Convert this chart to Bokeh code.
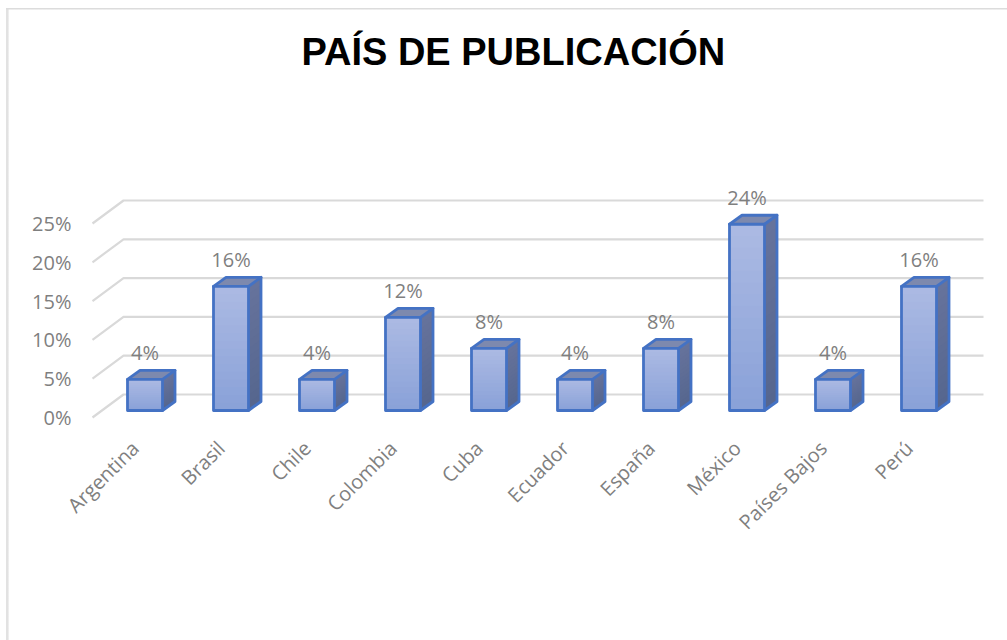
from bokeh.plotting import figure
from bokeh.embed import file_html
from bokeh.resources import INLINE
from bokeh.models import Range1d, FixedTicker, Title
from bokeh.core.properties import value
import math

TITLE = "PAÍS DE PUBLICACIÓN"
categories = ["Argentina", "Brasil", "Chile", "Colombia", "Cuba", "Ecuador", "España", "México", "Países Bajos", "Perú"]
shares = [4, 16, 4, 12, 8, 4, 8, 24, 4, 16]
y_ticks = [0, 5, 10, 15, 20, 25]

FONT = "Open Sans"
GREY = "#7f7f7f"
W, H = 1007, 640
ML, MR, MT, MB = 78, 8, 77, 210
PX_X, PX_Y = 86.0, 7.76          # pixels per category, pixels per percent
x0 = -(144.5 - 78) / PX_X
y0 = -(430 - 417) / PX_Y

WALL_DX, WALL_DY = 31 / PX_X, 23 / PX_Y
WALL_LEFT, WALL_RIGHT = (92 - 144.5) / PX_X, (983 - 144.5) / PX_X
BASE = 7 / PX_Y
HALF = 17.5 / PX_X
BAR_DX, BAR_DY = 12.5 / PX_X, 9 / PX_Y
LABEL_SHIFT = 0.115

p = figure(width=W, height=H, output_backend="svg", toolbar_location=None,
           x_range=Range1d(x0, x0 + (W - ML - MR) / PX_X),
           y_range=Range1d(y0, y0 + (H - MT - MB) / PX_Y),
           min_border_left=ML, min_border_right=MR, min_border_top=MT, min_border_bottom=MB,
           background_fill_color=None, border_fill_color=None, outline_line_color=None)
p.grid.visible = False

# chart-area border (top and left only), painted behind the transparent canvas
p.styles = {
    "background-color": "white",
    "background-image": "linear-gradient(#dcdcdc,#dcdcdc),linear-gradient(#e2e2e2,#e2e2e2)",
    "background-size": "100% 1.5px,2.6px 100%",
    "background-position": "6px 8px,6px 8px",
    "background-repeat": "no-repeat",
}

title = Title(text=TITLE, align="left", offset=223, text_font="Liberation Sans", text_font_size="38px",
              text_font_style="bold", text_color="#000000")
p.add_layout(title, "above")

# axes
ya = p.yaxis[0]
ya.ticker = FixedTicker(ticks=y_ticks)
ya.major_label_overrides = {v: f"{v}%" for v in y_ticks}
x_positions = [round(i - LABEL_SHIFT, 3) for i in range(len(categories))]
xa = p.xaxis[0]
xa.ticker = FixedTicker(ticks=x_positions)
xa.major_label_overrides = dict(zip(x_positions, categories))
xa.major_label_orientation = math.pi / 4
for a in (xa, ya):
    a.axis_line_color = None
    a.major_tick_line_color = None
    a.minor_tick_line_color = None
    a.major_label_text_font = FONT
    a.major_label_text_font_size = "20px"
    a.major_label_text_color = GREY
ya.major_label_standoff = 1
xa.major_label_standoff = 8

# wall gridlines
gx, gy = [], []
for v in y_ticks:
    gx.append([WALL_LEFT, WALL_LEFT + WALL_DX, WALL_RIGHT])
    gy.append([v, v + WALL_DY, v + WALL_DY])
p.multi_line(gx, gy, line_color="#d9d9d9", line_width=2.2)

def mix(a, b, t):
    ca = [int(a[i:i + 2], 16) for i in (1, 3, 5)]
    cb = [int(b[i:i + 2], 16) for i in (1, 3, 5)]
    return "#%02x%02x%02x" % tuple(round(u + (w - u) * t) for u, w in zip(ca, cb))

N = 16
for i, s in enumerate(shares):
    l, r, b, t = i - HALF, i + HALF, BASE, BASE + s
    # side face: each band runs to the foot, so that the next one overlaps it and no seams show
    xs, ys, cs = [], [], []
    for k in range(N):
        a = t - (t - b) * k / N
        xs.append([r, r + BAR_DX, r + BAR_DX, r])
        ys.append([a, a + BAR_DY, b + BAR_DY, b])
        cs.append(mix("#67739c", "#55668e", (k + .5) / N))
    p.patches(xs, ys, fill_color=cs, line_color=None)
    # front face
    tops = [t - (t - b) * k / N for k in range(N)]
    fc = [mix("#acbae3", "#89a1d8", (k + .5) / N) for k in range(N)]
    p.quad(left=[l] * N, right=[r] * N, top=tops, bottom=[b] * N, fill_color=fc, line_color=None)
    # top face
    p.patch([l, r, r + BAR_DX, l + BAR_DX], [t, t, t + BAR_DY, t + BAR_DY], fill_color="#7d89ae", line_color=None)
    # outline
    p.multi_line([[l, r, r, l, l],
                  [l, l + BAR_DX, r + BAR_DX, r + BAR_DX, r],
                  [r, r + BAR_DX]],
                 [[b, b, t, t, b],
                  [t, t + BAR_DY, t + BAR_DY, b + BAR_DY, b],
                  [t, t + BAR_DY]],
                 line_color="#4472c4", line_width=2.8, line_join="round", line_cap="round")

# data labels
p.text(x=list(range(len(shares))), y=[s + BASE for s in shares], text=[f"{s}%" for s in shares],
       x_offset=0, y_offset=-27, text_align="center", text_baseline="middle",
       text_font=value(FONT), text_font_size="20px", text_color=GREY)

open("out.html", "w").write(file_html(p, INLINE))
